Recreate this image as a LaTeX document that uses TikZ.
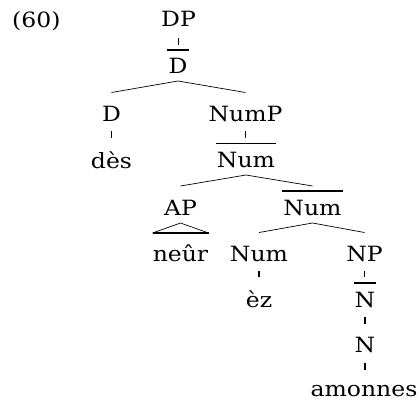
\documentclass[tikz,border=0pt]{standalone}
\usepackage{fontspec}
\setmainfont{DejaVu Serif}[FakeStretch=1.12]
\begin{document}
\begin{tikzpicture}[x=1pt,y=-1pt,
  lab/.style={inner sep=0pt,anchor=base,font=\fontsize{21}{25}\selectfont},
  branch/.style={line width=0.7pt},
  tickline/.style={line width=1.4pt},
  barline/.style={line width=1.7pt}]
\useasboundingbox (0,0) rectangle (419,401);
% nodes
\node[lab,anchor=base west] (ex) at (12,28) {(60)};
\node[lab] (DP) at (178.5,27) {DP};
\node[lab] (Dbar) at (178,74) {D};
\node[lab] (D) at (111.5,121) {D};
\node[lab] (NumP) at (245.5,121) {NumP};
\node[lab] (des) at (111.5,168) {dès};
\node[lab] (Numbar) at (246,167.5) {Num};
\node[lab] (AP) at (180.5,215) {AP};
\node[lab] (Numbarb) at (312.5,215) {Num};
\node[lab] (neur) at (180.5,261) {neûr};
\node[lab] (Num) at (259,261) {Num};
\node[lab] (NP) at (364.5,261) {NP};
\node[lab] (ez) at (259,307) {èz};
\node[lab] (Nbar) at (365,307) {N};
\node[lab] (N) at (365,352.5) {N};
\node[lab] (amonnes) at (364,396) {amonnes};
% bars
\foreach \n in {Dbar,Numbar,Numbarb,Nbar}
  \draw[barline] ([xshift=-1pt,yshift=24pt]\n.base west) -- ([xshift=1pt,yshift=24pt]\n.base east);
% unary ticks
\draw[tickline] ([yshift=-11pt]DP.base) -- ([yshift=-18pt]DP.base);
\draw[tickline] ([yshift=-10pt]D.base) -- ([yshift=-17pt]D.base);
\draw[tickline] ([yshift=-10pt]NumP.base) -- ([yshift=-17pt]NumP.base);
\draw[tickline] ([yshift=-10pt]Num.base) -- ([yshift=-16pt]Num.base);
\draw[tickline] ([yshift=-10pt]NP.base) -- ([yshift=-16pt]NP.base);
\draw[tickline] ([yshift=-10pt]Nbar.base) -- ([yshift=-17pt]Nbar.base);
\draw[tickline] ([yshift=-10pt]N.base) -- ([yshift=-17pt]N.base);
% binary branches
\draw[branch] ([yshift=28.5pt]D.base) -- ([yshift=-7pt]Dbar.base) -- ([yshift=28.5pt]NumP.base);
\draw[branch] ([yshift=29pt]AP.base) -- ([yshift=-7.5pt]Numbar.base) -- ([yshift=29pt]Numbarb.base);
\draw[branch] ([yshift=28.5pt]Num.base) -- ([yshift=-8pt]Numbarb.base) -- ([yshift=28.5pt]NP.base);
% triangle
\draw[branch] ([xshift=-28pt,yshift=28pt]neur.base) -- ([yshift=-8pt]AP.base) -- ([xshift=28pt,yshift=28pt]neur.base);
\draw[barline] ([xshift=-28pt,yshift=28pt]neur.base) -- ([xshift=28pt,yshift=28pt]neur.base);
\end{tikzpicture}
\end{document}
